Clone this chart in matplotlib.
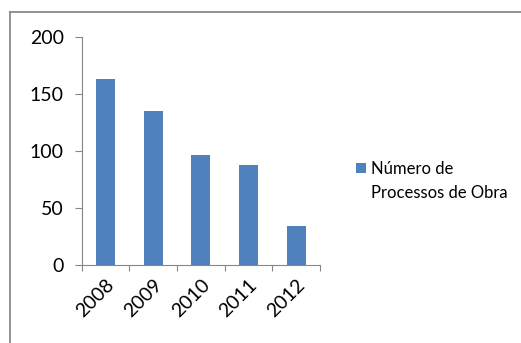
import matplotlib.pyplot as plt
from matplotlib.lines import Line2D

# Data
years = ['2008', '2009', '2010', '2011', '2012']
processos = [163, 135, 96, 88, 34]
y_ticks = [0, 50, 100, 150, 200]

plt.rcParams['font.family'] = ['Lato', 'DejaVu Sans']

fig = plt.figure(figsize=(5.21, 3.43), dpi=100)
ax = fig.add_axes([0.157, 0.227, 0.457, 0.666])

x = range(len(years))
ax.bar(x, processos, width=0.4, color='#4F81BD', label='Número de\nProcessos de Obra')

ax.set_xlim(-0.5, len(years) - 0.5)
ax.set_ylim(0, 200)
ax.set_yticks(y_ticks)
ax.set_xticks([i - 0.5 for i in range(len(years) + 1)], minor=False)
ax.set_xticklabels([])
ax.set_xticks(list(x), minor=True)
ax.set_xticklabels(years, minor=True, rotation=45, ha='right', va='top',
                   rotation_mode='anchor', fontsize=14)
ax.tick_params(axis='x', which='minor', length=0, pad=8)
ax.tick_params(axis='x', which='major', length=4, color='#868686', direction='out')
ax.tick_params(axis='y', length=5, color='#868686', labelsize=14, pad=8)

for side in ['top', 'right']:
    ax.spines[side].set_visible(False)
for side in ['left', 'bottom']:
    ax.spines[side].set_color('#868686')

leg = ax.legend(loc='center left', bbox_to_anchor=(1.09, 0.37), frameon=False,
                fontsize=12, handlelength=0.6, handleheight=0.6, handletextpad=0.3)
for t in leg.get_texts():
    t.set_linespacing(1.6)
# Excel puts the marker next to the first line of the label
box = leg.get_patches()[0]
box.set_y(box.get_y() + 9.5)

# outer chart frame (left and top edges visible in the crop)
fig.add_artist(Line2D([10 / 521, 10 / 521], [0, 1 - 12 / 343], color='#8a8a8a', lw=1.3))
fig.add_artist(Line2D([10 / 521, 1], [1 - 12 / 343, 1 - 12 / 343], color='#8a8a8a', lw=1.3))

fig.savefig('out.png', dpi=100)
